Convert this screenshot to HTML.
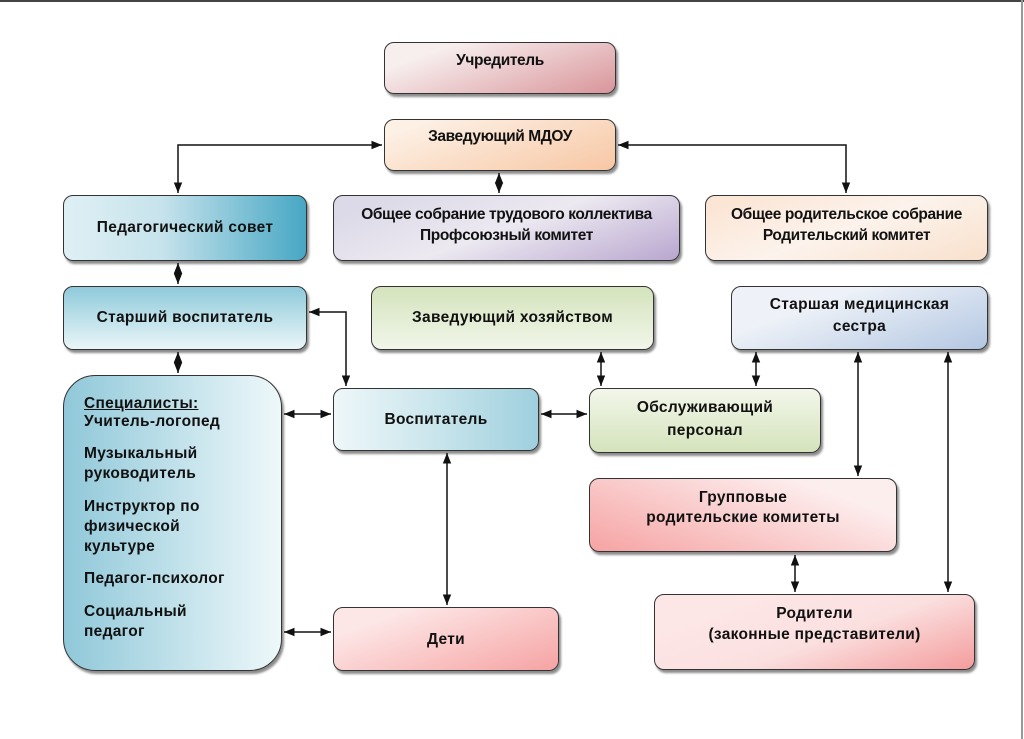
<!DOCTYPE html>
<html><head><meta charset="utf-8"><style>
body{margin:0;width:1024px;height:739px;background:#fff;position:relative;overflow:hidden;font-family:"Liberation Sans",sans-serif;}
.b{position:absolute;box-sizing:border-box;border:1.5px solid #333;border-radius:10px;box-shadow:2px 3px 2px rgba(0,0,0,.45);font-weight:bold;color:#111;text-align:center;font-size:15.5px;letter-spacing:.3px;}
.b div{position:absolute;left:0;right:0;line-height:20px;}
.c{letter-spacing:-.4px;font-size:15.5px;}
</style></head><body>
<div style="position:absolute;left:0;top:0;width:1024px;height:2px;background:#444"></div>
<div style="position:absolute;left:1021px;top:0;width:2px;height:739px;background:#999"></div>

<div class="b c" style="left:384px;top:42px;width:232px;height:52px;background:linear-gradient(160deg,#f7eeee 20%,#d9959a)"><div style="top:8px">Учредитель</div></div>
<div class="b c" style="left:384px;top:119px;width:232px;height:52px;background:linear-gradient(160deg,#fdf1e6 10%,#f7c7a4)"><div style="top:7px">Заведующий МДОУ</div></div>
<div class="b" style="left:63px;top:195px;width:244px;height:66px;background:linear-gradient(90deg,#dff0f5,#c7e3ec 40%,#47a7c4)"><div style="top:22px">Педагогический совет</div></div>
<div class="b c" style="left:333px;top:195px;width:347px;height:66px;background:linear-gradient(160deg,#dcd9e8 10%,#ece9f1 50%,#b9a6cf)"><div style="top:9px">Общее собрание трудового коллектива</div><div style="top:30px">Профсоюзный комитет</div></div>
<div class="b c" style="left:705px;top:195px;width:283px;height:66px;background:linear-gradient(160deg,#fbe6d6 10%,#fcf3ec 50%,#f9e0cc)"><div style="top:9px">Общее родительское собрание</div><div style="top:30px">Родительский комитет</div></div>
<div class="b" style="left:63px;top:286px;width:244px;height:64px;background:linear-gradient(180deg,#8fcadb,#eaf6f8)"><div style="top:21px">Старший воспитатель</div></div>
<div class="b" style="left:371px;top:286px;width:283px;height:64px;background:linear-gradient(180deg,#d4e3bc,#f1f6ea)"><div style="top:21px">Заведующий хозяйством</div></div>
<div class="b" style="left:731px;top:286px;width:257px;height:64px;background:linear-gradient(160deg,#eef2f8 30%,#b3c7e2)"><div style="top:8px">Старшая медицинская</div><div style="top:30px">сестра</div></div>
<div class="b" style="left:63px;top:375px;width:219px;height:296px;border-radius:32px;background:linear-gradient(90deg,#90c8d9,#eef8fa);text-align:left;line-height:20px">
<div style="left:20px;top:18px;text-decoration:underline">Специалисты:</div>
<div style="left:20px;top:36px">Учитель-логопед</div>
<div style="left:20px;top:68px">Музыкальный</div>
<div style="left:20px;top:88px">руководитель</div>
<div style="left:20px;top:121px">Инструктор по</div>
<div style="left:20px;top:141px">физической</div>
<div style="left:20px;top:161px">культуре</div>
<div style="left:20px;top:193px">Педагог-психолог</div>
<div style="left:20px;top:226px">Социальный</div>
<div style="left:20px;top:246px">педагог</div>
</div>
<div class="b" style="left:333px;top:388px;width:206px;height:63px;background:linear-gradient(90deg,#eef7f9,#c9e5ec 50%,#9fd0de)"><div style="top:21px">Воспитатель</div></div>
<div class="b" style="left:589px;top:388px;width:232px;height:65px;background:linear-gradient(180deg,#f3f7ea,#d4e3bc)"><div style="top:9px">Обслуживающий</div><div style="top:32px">персонал</div></div>
<div class="b" style="left:589px;top:478px;width:308px;height:74px;background:linear-gradient(200deg,#fdeeee 20%,#f6a3a3)"><div style="top:9px">Групповые</div><div style="top:29px">родительские комитеты</div></div>
<div class="b" style="left:333px;top:607px;width:226px;height:64px;background:linear-gradient(160deg,#fde6e6 20%,#f6a3a3)"><div style="top:22px">Дети</div></div>
<div class="b" style="left:654px;top:594px;width:321px;height:76px;background:linear-gradient(160deg,#fde6e6 20%,#fbe0e0 55%,#f49c9c)"><div style="top:9px">Родители</div><div style="top:30px">(законные представители)</div></div>

<svg width="1024" height="739" style="position:absolute;left:0;top:0" fill="none">
<defs><marker id="a" viewBox="0 0 10 10" refX="10" refY="5" markerWidth="7" markerHeight="7" orient="auto-start-reverse"><path d="M0,1L10,5L0,9z" fill="#111"/></marker></defs>
<g stroke="#111" stroke-width="1.5">
<path d="M178,193V145H382" marker-start="url(#a)" marker-end="url(#a)"/>
<path d="M618,145H846V193" marker-start="url(#a)" marker-end="url(#a)"/>
<path d="M499,173V193" marker-start="url(#a)" marker-end="url(#a)"/>
<path d="M178,263V284" marker-start="url(#a)" marker-end="url(#a)"/>
<path d="M178,352V373" marker-start="url(#a)" marker-end="url(#a)"/>
<path d="M309,312H346V386" marker-start="url(#a)" marker-end="url(#a)"/>
<path d="M284,414H331" marker-start="url(#a)" marker-end="url(#a)"/>
<path d="M541,414H587" marker-start="url(#a)" marker-end="url(#a)"/>
<path d="M601,352V386" marker-start="url(#a)" marker-end="url(#a)"/>
<path d="M756,352V386" marker-start="url(#a)" marker-end="url(#a)"/>
<path d="M858,352V476" marker-start="url(#a)" marker-end="url(#a)"/>
<path d="M948,352V592" marker-start="url(#a)" marker-end="url(#a)"/>
<path d="M447,453V605" marker-start="url(#a)" marker-end="url(#a)"/>
<path d="M795,555V592" marker-start="url(#a)" marker-end="url(#a)"/>
<path d="M284,632H331" marker-start="url(#a)" marker-end="url(#a)"/>
</g></svg>
</body></html>
